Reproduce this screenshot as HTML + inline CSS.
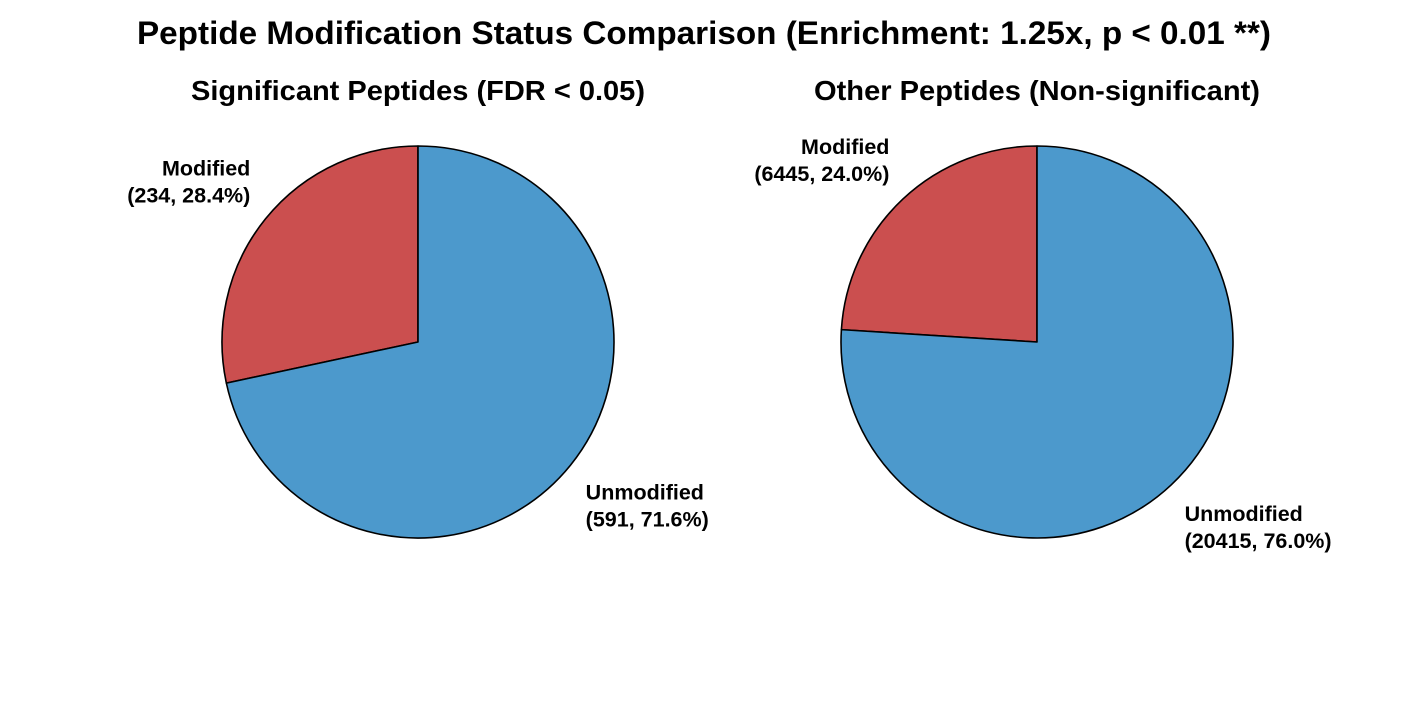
<!DOCTYPE html>
<html><head><meta charset="utf-8"><style>
body{margin:0;background:#fff}
svg text{font-family:"Liberation Sans",Arial,sans-serif;font-weight:bold;fill:#000}
</style></head><body>
<svg id="chart" width="1407" height="704" viewBox="0 0 1407 704" xmlns="http://www.w3.org/2000/svg">
<rect width="1407" height="704" fill="#fff"/>
<text x="704" y="44" font-size="32" text-anchor="middle" textLength="1134" lengthAdjust="spacingAndGlyphs">Peptide Modification Status Comparison (Enrichment: 1.25x, p &lt; 0.01 **)</text>
</svg>
<script>
const panelTitles = ["Significant Peptides (FDR < 0.05)", "Other Peptides (Non-significant)"];
const titleWidths = [454, 446];
const categories = ["Modified", "Unmodified"];
const sigCounts = [234, 591];
const otherCounts = [6445, 20415];
const colors = ["#CB4F4F", "#4C99CC"];
const NS = "http://www.w3.org/2000/svg";
const svg = document.getElementById("chart");
const panels = [{cx:418, cy:342, r:196, counts:sigCounts, name:"significant"},
                {cx:1037, cy:342, r:196, counts:otherCounts, name:"other"}];
function mk(tag, attrs){const e=document.createElementNS(NS,tag);for(const k in attrs)e.setAttribute(k,attrs[k]);svg.appendChild(e);return e;}
panels.forEach((p,pi)=>{
  const t = mk("text",{x:p.cx, y:100, "font-size":28, "text-anchor":"middle", textLength:titleWidths[pi], lengthAdjust:"spacingAndGlyphs"});
  
  
  t.textContent = panelTitles[pi];
  const total = p.counts.reduce((a,b)=>a+b,0);
  let ang = 90;
  p.counts.forEach((v,i)=>{
    const span = v/total*360;
    const a0 = ang*Math.PI/180, a1=(ang+span)*Math.PI/180;
    const x0=p.cx+p.r*Math.cos(a0), y0=p.cy-p.r*Math.sin(a0);
    const x1=p.cx+p.r*Math.cos(a1), y1=p.cy-p.r*Math.sin(a1);
    const large = span>180?1:0;
    const path = mk("path",{d:`M${p.cx},${p.cy} L${x0},${y0} A${p.r},${p.r} 0 ${large} 0 ${x1},${y1} Z`, fill:colors[i], stroke:"#000", "stroke-width":1.6, "stroke-linejoin":"round"});
    
    
    const mid = (ang+span/2)*Math.PI/180;
    const lx = p.cx+1.1*p.r*Math.cos(mid), ly = p.cy-1.1*p.r*Math.sin(mid);
    const anchor = lx < p.cx ? "end" : "start";
    const above = ly < p.cy;
    const y1l = above ? ly-31 : ly+22;
    const lab = mk("text",{x:lx, y:y1l, "font-size":21.5, "text-anchor":anchor});
    
    
    const pct = (v/total*100).toFixed(1);
    const s1 = document.createElementNS(NS,"tspan"); s1.setAttribute("x",lx); s1.textContent=categories[i];
    const s2 = document.createElementNS(NS,"tspan"); s2.setAttribute("x",lx); s2.setAttribute("dy",27); s2.textContent=`(${v}, ${pct}%)`;
    lab.appendChild(s1); lab.appendChild(s2);
    ang += span;
  });
});
</script>
</body></html>
